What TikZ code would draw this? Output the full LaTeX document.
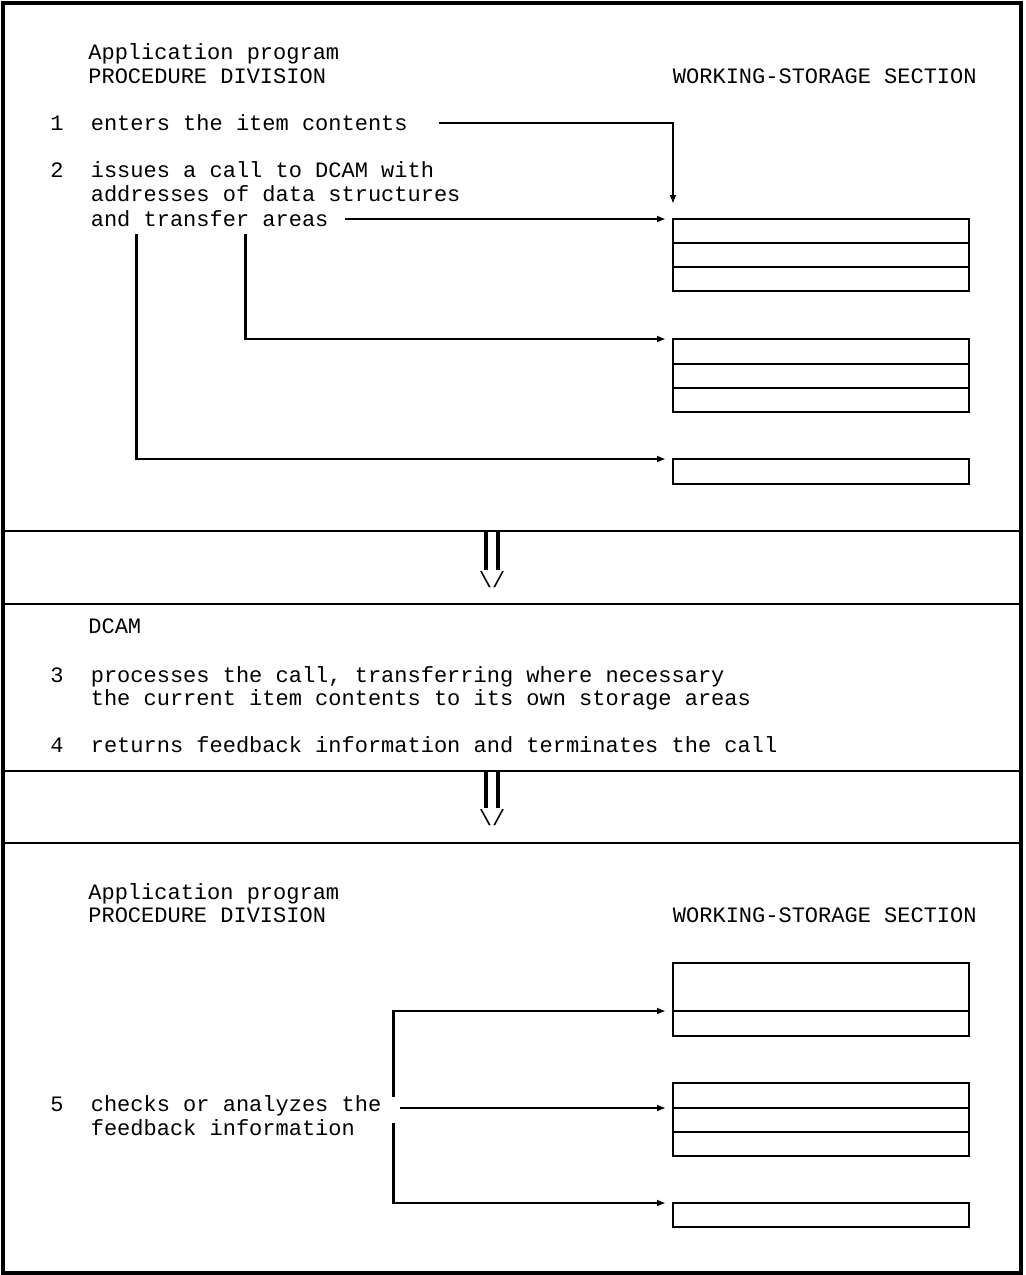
\documentclass[tikz,border=0pt]{standalone}
\usepackage{fontspec}
\setmonofont{Liberation Mono}
\usetikzlibrary{positioning,arrows.meta}

\begin{document}
\begin{tikzpicture}[x=0.5pt, y=-0.5pt,
    txt/.style={font=\ttfamily\fontsize{11}{12.25}\selectfont, inner sep=0pt, anchor=base west},
    row/.style={draw, line width=1.2pt, minimum width=148pt, minimum height=12pt, inner sep=0pt, outer sep=0pt},
    link/.style={line width=1.2pt},
    arr/.style={line width=1.2pt, -{Latex[length=4.5pt,width=3.5pt]}, shorten >=3.5pt},
    rule/.style={line width=1.4pt},
    bar/.style={line width=2pt}]

    % Page size and outer frame
    \useasboundingbox (0,0) rectangle (1025,1275);
    \draw[line width=1.8pt] (3,3) rectangle (1021,1273);

    % Section rules
    \draw[rule] (3,531) -- (1021,531);
    \draw[rule] (3,604) -- (1021,604);
    \draw[rule] (3,771) -- (1021,771);
    \draw[rule] (3,843) -- (1021,843);

    % Down marks between sections
    \draw[bar] (486,531) -- (486,570);
    \draw[bar] (498,531) -- (498,570);
    \node[txt, anchor=center] (down1) at (492,580) {\textbackslash/};
    \draw[bar] (486,771) -- (486,808);
    \draw[bar] (498,771) -- (498,808);
    \node[txt, anchor=center] (down2) at (492,818) {\textbackslash/};

    % Top section: application program calls DCAM
    \node[txt] (app1) at (88,59) {Application program};
    \node[txt] (pd1) at (88,83) {PROCEDURE DIVISION};
    \node[txt, anchor=base east] (ws1) at (977,83) {WORKING-STORAGE SECTION};

    \node[txt] (n1) at (50,130) {1};
    \node[txt, base right=13.2pt of n1] (t1) {enters the item contents};
    \node[txt] (n2) at (50,177) {2};
    \node[txt, base right=13.2pt of n2] (t2a) {issues a call to DCAM with};
    \node[txt] (t2b) at ([yshift=-12.25pt]t2a.base west) {addresses of data structures};
    \node[txt] (t2c) at ([yshift=-12.25pt]t2b.base west) {and transfer areas};

    % Working-storage areas (top)
    \node[row, anchor=north west] (b1r1) at (673,219) {};
    \node[row, below=0pt of b1r1] (b1r2) {};
    \node[row, below=0pt of b1r2] (b1r3) {};

    \node[row, anchor=north west, minimum height=12.5pt] (b2r1) at (673,339) {};
    \node[row, below=0pt of b2r1] (b2r2) {};
    \node[row, below=0pt of b2r2] (b2r3) {};

    \node[row, anchor=north west, minimum height=12.5pt] (b3r1) at (673,459) {};

    % Connectors (top)
    \draw[arr, shorten >=7.5pt] ([xshift=15.5pt,yshift=3.5pt]t1.base east) -| (b1r1.north west);
    \draw[arr] ([xshift=8pt]t2c.east |- b1r1.north west) -- (b1r1.north west);
    \draw[arr] ([shift={(77.5pt,-4pt)}]t2c.base west) |- (b2r1.north west);
    \draw[arr] ([shift={(23pt,-4pt)}]t2c.base west) |- (b3r1.north west);

    % Middle section: DCAM
    \node[txt] (dcam) at (88,633) {DCAM};
    \node[txt] (n3) at (50,682) {3};
    \node[txt, base right=13.2pt of n3] (t3a) {processes the call, transferring where necessary};
    \node[txt] (t3b) at ([yshift=-11.5pt]t3a.base west) {the current item contents to its own storage areas};
    \node[txt] (n4) at (50,752) {4};
    \node[txt, base right=13.2pt of n4] (t4) {returns feedback information and terminates the call};

    % Bottom section: application program checks feedback
    \node[txt] (app2) at (88,899) {Application program};
    \node[txt] (pd2) at (88,922) {PROCEDURE DIVISION};
    \node[txt, anchor=base east] (ws2) at (977,922) {WORKING-STORAGE SECTION};

    \node[txt] (n5) at (50,1111) {5};
    \node[txt, base right=13.2pt of n5] (t5a) {checks or analyzes the};
    \node[txt] (t5b) at ([yshift=-12pt]t5a.base west) {feedback information};

    % Working-storage areas (bottom)
    \node[row, anchor=north west, minimum height=24pt] (bAr1) at (673,963) {};
    \node[row, below=0pt of bAr1, minimum height=12.5pt] (bAr2) {};

    \node[row, anchor=north west, minimum height=12.5pt] (bBr1) at (673,1083) {};
    \node[row, below=0pt of bBr1] (bBr2) {};
    \node[row, below=0pt of bBr2] (bBr3) {};

    \node[row, anchor=north west] (bC) at (673,1203) {};

    % Connectors (bottom)
    \coordinate (fork) at ([xshift=6pt]t5a.base east);
    \draw[arr] ([yshift=7pt]fork) -- (fork |- bAr2.north) -- (bAr2.north west);
    \draw[arr] ([xshift=9pt]t5a.east |- bBr2.north) -- (bBr2.north west);
    \draw[arr] ([yshift=-6pt]fork) |- (bC.north west);

\end{tikzpicture}
\end{document}
